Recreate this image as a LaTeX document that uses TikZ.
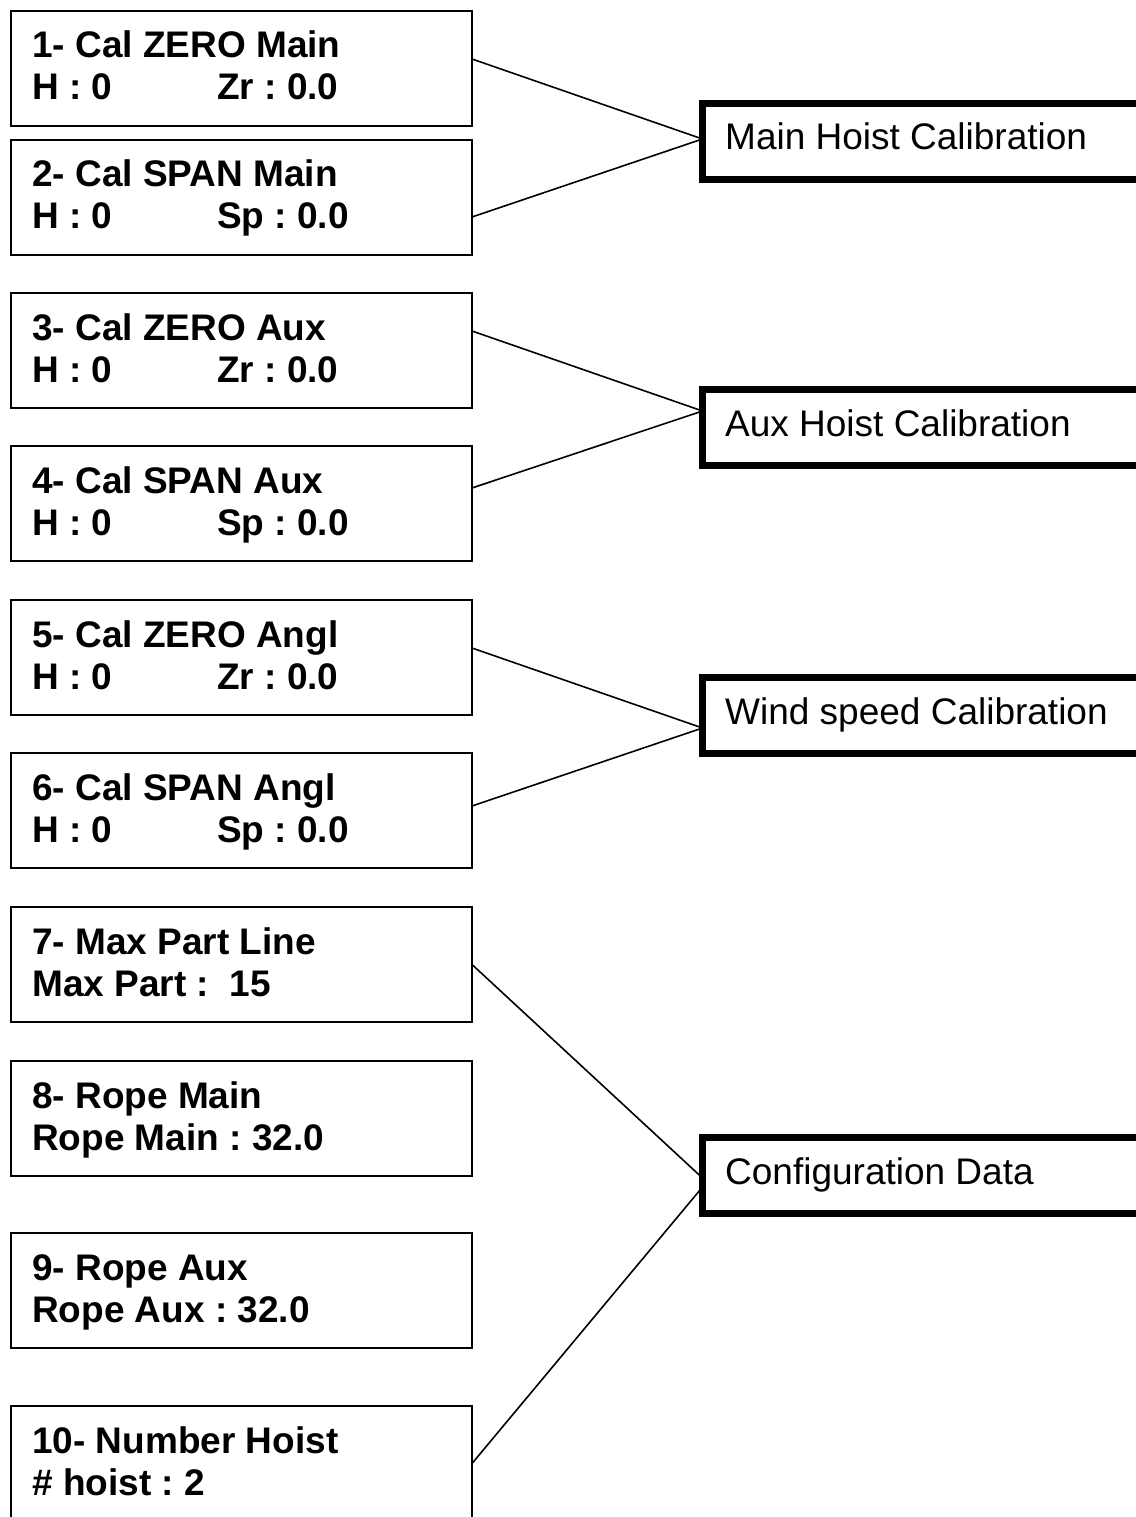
\documentclass[tikz,border=0pt]{standalone}
\usepackage{fontspec}
\setmainfont{Liberation Sans}
\frenchspacing
\begin{document}
\begin{tikzpicture}[x=1pt,y=-1pt,
  lbox/.style={draw, line width=2pt, minimum width=461pt, minimum height=115pt, inner sep=0pt, outer sep=0pt, anchor=north west},
  rbox/.style={draw, line width=7pt, minimum width=450pt, minimum height=76pt, inner sep=0pt, outer sep=0pt, anchor=north west},
  ltext/.style={anchor=base west, inner sep=0pt, font=\fontsize{37}{44}\selectfont\bfseries\frenchspacing},
  rtext/.style={anchor=base west, inner sep=0pt, font=\fontsize{37}{44}\selectfont\frenchspacing},
  conn/.style={draw, line width=1.6pt}]
\useasboundingbox (0,0) rectangle (1135,1517);
% left boxes
\node[lbox] (b1) at (11,11) {};
\node[lbox] (b2) at (11,140) {};
\node[lbox] (b3) at (11,293) {};
\node[lbox] (b4) at (11,446) {};
\node[lbox] (b5) at (11,600) {};
\node[lbox] (b6) at (11,753) {};
\node[lbox] (b7) at (11,907) {};
\node[lbox] (b8) at (11,1061) {};
\node[lbox] (b9) at (11,1233) {};
\node[lbox] (b10) at (11,1406) {};
% left texts
\node[ltext] (t1a) at (32,58) {1- Cal ZERO Main};
\node[ltext] (t1b) at (32,100) {H : 0};
\node[ltext] (t1c) at (217,100) {Zr : 0.0};
\node[ltext] (t2a) at (32,187) {2- Cal SPAN Main};
\node[ltext] (t2b) at (32,229) {H : 0};
\node[ltext] (t2c) at (217,229) {Sp : 0.0};
\node[ltext] (t3a) at (32,340) {3- Cal ZERO Aux};
\node[ltext] (t3b) at (32,382) {H : 0};
\node[ltext] (t3c) at (217,382) {Zr : 0.0};
\node[ltext] (t4a) at (32,493) {4- Cal SPAN Aux};
\node[ltext] (t4b) at (32,535) {H : 0};
\node[ltext] (t4c) at (217,535) {Sp : 0.0};
\node[ltext] (t5a) at (32,647) {5- Cal ZERO Angl};
\node[ltext] (t5b) at (32,689) {H : 0};
\node[ltext] (t5c) at (217,689) {Zr : 0.0};
\node[ltext] (t6a) at (32,800) {6- Cal SPAN Angl};
\node[ltext] (t6b) at (32,842) {H : 0};
\node[ltext] (t6c) at (217,842) {Sp : 0.0};
\node[ltext] (t7a) at (32,954) {7- Max Part Line};
\node[ltext] (t7b) at (32,996) {Max Part :\ \ 15};
\node[ltext] (t8a) at (32,1108) {8- Rope Main};
\node[ltext] (t8b) at (32,1150) {Rope Main : 32.0};
\node[ltext] (t9a) at (32,1280) {9- Rope Aux};
\node[ltext] (t9b) at (32,1322) {Rope Aux : 32.0};
\node[ltext] (t10a) at (32,1453) {10- Number Hoist};
\node[ltext] (t10b) at (32,1495) {\# hoist : 2};
% right boxes
\node[rbox] (mh) at (702.5,103.5) {};
\node[rbox] (ah) at (702.5,389.5) {};
\node[rbox] (wc) at (702.5,677.5) {};
\node[rbox] (cd) at (702.5,1137.5) {};
\node[rtext] (tmh) at (725,150) {Main Hoist Calibration};
\node[rtext] (tah) at (725,436) {Aux Hoist Calibration};
\node[rtext] (twc) at (725,724) {Wind speed Calibration};
\node[rtext] (tcd) at (725,1184) {Configuration Data};
% connectors
\path[conn] ([yshift=9.5pt]b1.east) -- ([yshift=2.5pt]mh.west);
\path[conn] ([yshift=-19.5pt]b2.east) -- ([yshift=2.5pt]mh.west);
\path[conn] ([yshift=19.5pt]b3.east) -- ([yshift=16.5pt]ah.west);
\path[conn] ([yshift=15.5pt]b4.east) -- ([yshift=16.5pt]ah.west);
\path[conn] ([yshift=9.5pt]b5.east) -- ([yshift=-12.5pt]wc.west);
\path[conn] ([yshift=4.5pt]b6.east) -- ([yshift=-12.5pt]wc.west);
\path[conn] (b7.east) -- ([yshift=-2.5pt]cd.west);
\path[conn] (b10.east) -- ([yshift=-11.5pt]cd.west);
\end{tikzpicture}
\end{document}
